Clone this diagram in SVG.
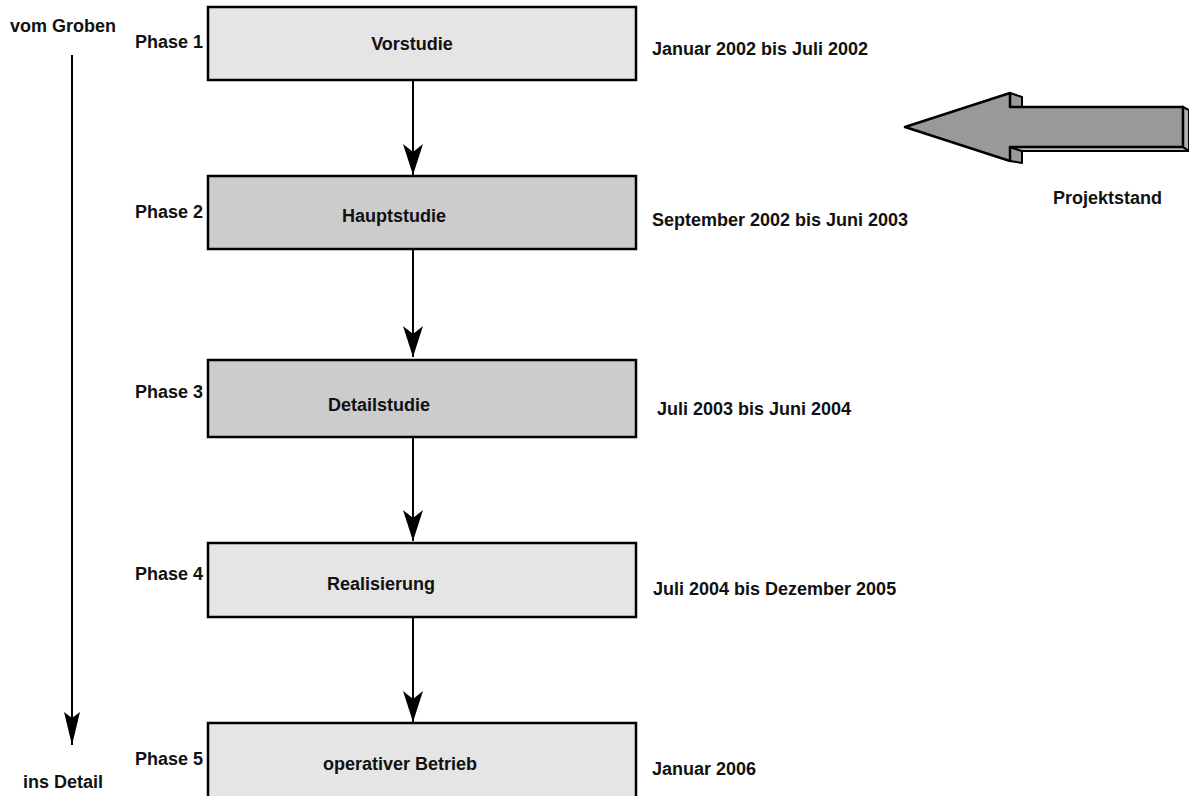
<svg xmlns="http://www.w3.org/2000/svg" width="1189" height="796" viewBox="0 0 1189 796">
<defs>
<style>
text{font-family:"Liberation Sans",Arial,sans-serif;font-weight:bold;font-size:18px;fill:#111}
.box{stroke:#000;stroke-width:2.5}
.light{fill:#e5e5e5}
.dark{fill:#cccccc}
.mid{text-anchor:middle}
.conn line{stroke:#000;stroke-width:2}
</style>
<marker id="ah" markerWidth="32" markerHeight="20" refX="31" refY="10" orient="auto" markerUnits="userSpaceOnUse" viewBox="0 0 32 20">
<path d="M0,0 L31,10 L0,20 L8,10 Z" fill="#000"/>
</marker>
<marker id="ah2" markerWidth="34" markerHeight="16" refX="33" refY="8" orient="auto" markerUnits="userSpaceOnUse" viewBox="0 0 34 16">
<path d="M0,0 L33,8 L0,16 L6,8 Z" fill="#000"/>
</marker>
</defs>
<rect width="1189" height="796" fill="#fff"/>

<g id="labels-left">
<text x="10" y="32">vom Groben</text>
<text x="23" y="788">ins Detail</text>
</g>

<g class="conn" id="connectors">
<line x1="413" y1="80" x2="413" y2="175" marker-end="url(#ah)"/>
<line x1="413" y1="249" x2="413" y2="357" marker-end="url(#ah)"/>
<line x1="413" y1="437" x2="413" y2="541" marker-end="url(#ah)"/>
<line x1="413" y1="617" x2="413" y2="722" marker-end="url(#ah)"/>
<line x1="72" y1="55" x2="72" y2="745" marker-end="url(#ah2)"/>
</g>

<g id="phase1">
<rect class="box light" x="208" y="7" width="428" height="73"/>
<text x="135" y="48">Phase 1</text>
<text class="mid" x="412" y="50">Vorstudie</text>
<text x="652" y="55">Januar 2002 bis Juli 2002</text>
</g>
<g id="phase2">
<rect class="box dark" x="208" y="176" width="428" height="73"/>
<text x="135" y="218">Phase 2</text>
<text class="mid" x="394" y="222">Hauptstudie</text>
<text x="652" y="226">September 2002 bis Juni 2003</text>
</g>
<g id="phase3">
<rect class="box dark" x="208" y="360" width="428" height="77"/>
<text x="135" y="398">Phase 3</text>
<text class="mid" x="379" y="411">Detailstudie</text>
<text x="657" y="415">Juli 2003 bis Juni 2004</text>
</g>
<g id="phase4">
<rect class="box light" x="208" y="543" width="428" height="74"/>
<text x="135" y="580">Phase 4</text>
<text class="mid" x="381" y="590">Realisierung</text>
<text x="653" y="595">Juli 2004 bis Dezember  2005</text>
</g>
<g id="phase5">
<rect class="box light" x="208" y="723" width="428" height="80"/>
<text x="135" y="765">Phase 5</text>
<text class="mid" x="400" y="770">operativer Betrieb</text>
<text x="652" y="775">Januar 2006</text>
</g>

<g id="projektstand">
<polygon points="1010,93 1022,97 1022,107 1010,107" fill="#999" stroke="#000" stroke-width="2" stroke-linejoin="round"/>
<polygon points="1010,147 1022,151 1022,163 1010,161" fill="#999" stroke="#000" stroke-width="2" stroke-linejoin="round"/>
<polygon points="1010,147 1022,151 1189,151 1183,147" fill="#bdbdbd" stroke="#000" stroke-width="2"/>
<polygon points="1183,107 1189,110 1189,151 1183,147" fill="#b0b0b0" stroke="#000" stroke-width="2"/>
<polygon points="905,127 1010,93 1010,107 1183,107 1183,147 1010,147 1010,161" fill="#999" stroke="#000" stroke-width="2.5" stroke-linejoin="round"/>
<text x="1053" y="204">Projektstand</text>
</g>
</svg>
